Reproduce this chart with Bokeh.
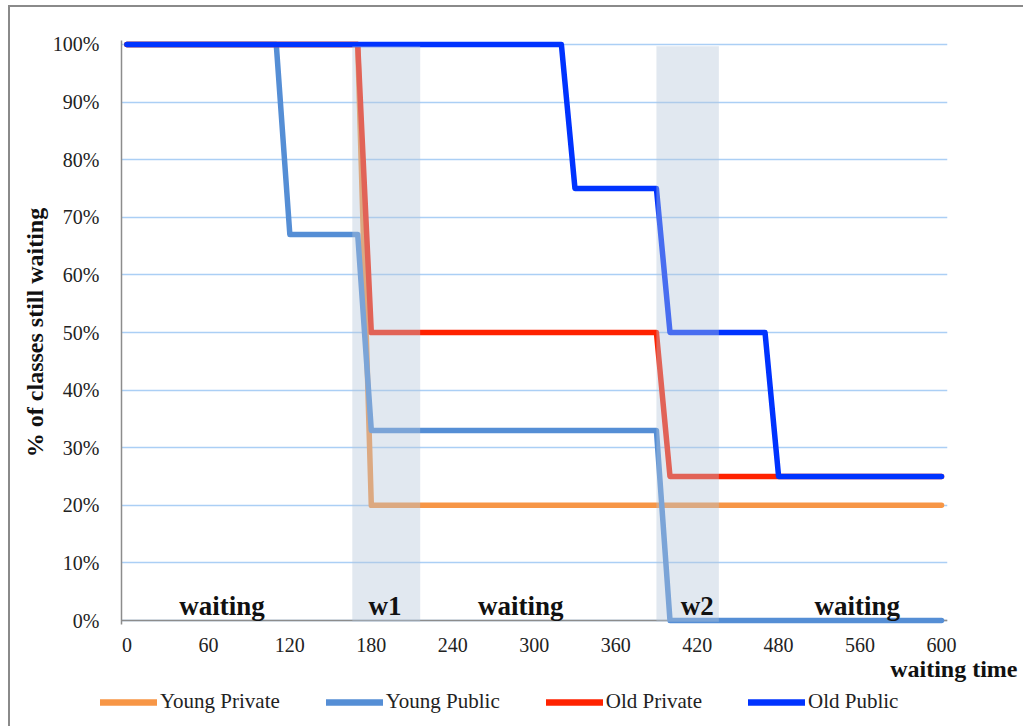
from bokeh.plotting import figure
from bokeh.layouts import column
from bokeh.models import Range1d, FixedTicker, Legend, LegendItem, Label, Span, ColumnDataSource
from bokeh.core.properties import value
from bokeh.embed import file_html
from bokeh.resources import INLINE

# ---------------- data ----------------
young_private_x = [0, 170, 180, 600]
young_private_y = [1.0, 1.0, 0.20, 0.20]

young_public_x = [0, 110, 120, 170, 180, 390, 400, 600]
young_public_y = [1.0, 1.0, 0.67, 0.67, 0.33, 0.33, 0.0, 0.0]

old_private_x = [0, 170, 180, 390, 400, 600]
old_private_y = [1.0, 1.0, 0.50, 0.50, 0.25, 0.25]

old_public_x = [0, 320, 330, 390, 400, 470, 480, 600]
old_public_y = [1.0, 1.0, 0.75, 0.75, 0.50, 0.50, 0.25, 0.25]

series_names = ["Young Private", "Young Public", "Old Private", "Old Public"]
series_colors = ["#F79646", "#558ED5", "#FF2200", "#0033FF"]

band_names = ["w1", "w2"]
band_start = [166, 390]
band_end = [216, 436]

phase_labels = ["waiting", "w1", "waiting", "w2", "waiting"]
phase_x = [70, 190, 290, 420, 538]

x_ticks = [0, 60, 120, 180, 240, 300, 360, 420, 480, 540, 600]
x_tick_labels = ["0", "60", "120", "180", "240", "300", "360", "420", "480", "560", "600"]
y_ticks = [0, 0.1, 0.2, 0.3, 0.4, 0.5, 0.6, 0.7, 0.8, 0.9, 1.0]
y_tick_labels = ["0%", "10%", "20%", "30%", "40%", "50%", "60%", "70%", "80%", "90%", "100%"]

x_title = "waiting time"
y_title = "% of classes still waiting"

SERIF = "Liberation Serif"

xs = [young_private_x, young_public_x, old_private_x, old_public_x]
ys = [young_private_y, young_public_y, old_private_y, old_public_y]

# ---------------- main figure ----------------
p = figure(width=1013, height=650,
           x_range=Range1d(-4, 604.4), y_range=Range1d(-0.00694, 1.00694),
           output_backend="svg", toolbar_location=None,
           min_border_left=111, min_border_right=76,
           min_border_top=33, min_border_bottom=33)
p.frame_align = False
p.outline_line_color = None
p.background_fill_color = "white"
p.border_fill_color = "white"

p.xgrid.visible = False
p.ygrid.ticker = FixedTicker(ticks=y_ticks)
p.ygrid.grid_line_color = "#ABCFF5"
p.ygrid.grid_line_width = 1.5

p.xaxis.ticker = FixedTicker(ticks=x_ticks)
p.xaxis.major_label_overrides = dict(zip(x_ticks, x_tick_labels))
p.yaxis.ticker = FixedTicker(ticks=y_ticks)
p.yaxis.major_label_overrides = dict(zip(y_ticks, y_tick_labels))
for ax in (p.xaxis[0], p.yaxis[0]):
    ax.major_tick_line_color = None
    ax.minor_tick_line_color = None
    ax.major_label_text_font = SERIF
    ax.major_label_text_font_size = "20px"
    ax.major_label_text_color = "#222222"
p.xaxis.axis_line_color = None
p.xaxis.major_label_standoff = 7
p.yaxis.axis_line_color = "#8c8c8c"
p.yaxis.axis_line_width = 1.5
p.yaxis.major_label_standoff = 16
p.yaxis.axis_label = y_title
p.yaxis.axis_label_text_font = SERIF
p.yaxis.axis_label_text_font_style = "bold"
p.yaxis.axis_label_text_font_size = "24px"
p.yaxis.axis_label_text_color = "#111111"
p.yaxis.axis_label_standoff = 2

# baseline at 0%
p.add_layout(Span(location=0, dimension="width", line_color="#8c8c8c",
                  line_width=1.5, level="underlay"))

for x, y, c in zip(xs, ys, series_colors):
    p.line(x, y, line_color=c, line_width=5.5, line_cap="round", line_join="round")

band_src = ColumnDataSource(dict(left=band_start, right=band_end,
                                 bottom=[-0.002] * len(band_start),
                                 top=[0.997] * len(band_start)))
p.quad(left="left", right="right", bottom="bottom", top="top", source=band_src,
       fill_color="#B4C6DA", fill_alpha=0.4, line_color=None)

p.text(x=phase_x, y=[0.026] * len(phase_x), text=phase_labels,
       text_font=value(SERIF), text_font_style="bold", text_font_size="27px",
       text_align="center", text_baseline="alphabetic", text_color="#111111")

# ---------------- strip below: x title and legend ----------------
# (the series are re-drawn here only to feed the legend keys; they fall outside
#  this strip's y range so only their legend samples are visible)
p2 = figure(width=1013, height=69, x_range=Range1d(0, 1013), y_range=Range1d(100, 169),
            output_backend="svg", toolbar_location=None,
            x_axis_location=None, y_axis_location=None,
            min_border_left=0, min_border_right=0, min_border_top=0, min_border_bottom=0)
p2.frame_align = False
p2.grid.visible = False
p2.outline_line_color = None
p2.background_fill_color = "white"
p2.border_fill_color = "white"

p2.add_layout(Label(x=1007, y=158, text=x_title, text_font=SERIF,
                    text_font_style="bold", text_font_size="24px",
                    text_align="right", text_baseline="middle", text_color="#111111"))

key_renderers = [p2.line(x, y, line_color=c, line_width=6.5, line_cap="round")
                 for x, y, c in zip(xs, ys, series_colors)]
legend = Legend(items=[LegendItem(label=n, renderers=[r]) for n, r in zip(series_names, key_renderers)],
                location=(90, 12), orientation="horizontal",
                glyph_width=57, glyph_height=20, label_standoff=3,
                padding=0, margin=0, spacing=46,
                border_line_color=None, background_fill_alpha=0,
                label_text_font=SERIF, label_text_font_size="21px",
                label_text_color="#222222")
p2.add_layout(legend, "center")

layout = column(p, p2, spacing=0)
layout.margin = (5, 0, 0, 8)
layout.styles = {"border-left": "2px solid #8a8a8a", "border-top": "2px solid #8a8a8a"}

open("out.html", "w").write(file_html(layout, INLINE))
